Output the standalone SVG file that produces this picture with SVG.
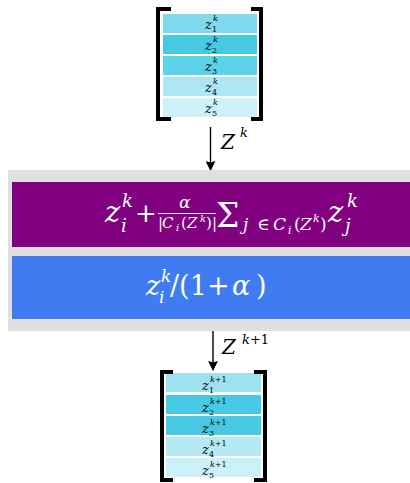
<svg xmlns="http://www.w3.org/2000/svg" width="410" height="483" viewBox="0 0 410 483" font-family="'DejaVu Serif', serif">
<defs>
<marker id="ah" markerWidth="10" markerHeight="10" refX="9" refY="5" orient="auto" markerUnits="userSpaceOnUse">
<path d="M0,0 L10,5 L0,10 L1.5,5 Z" fill="#000"/>
</marker>
<style>
.i{font-style:italic;}
.w{fill:#fff;}
.br{fill:none;stroke:#000;stroke-width:4;stroke-linejoin:miter;}
.lbl{font-size:13px;}
.sc{font-size:8px;}
.ar{stroke:#000;stroke-width:1.4;fill:none;}
</style>
</defs>
<rect width="410" height="483" fill="#fff"/>

<g id="stack-top">
<rect x="163" y="14" width="94" height="19" fill="#80daee"/>
<rect x="163" y="35" width="94" height="19" fill="#48c9e3"/>
<rect x="163" y="56" width="94" height="19" fill="#5dd3ea"/>
<rect x="163" y="77" width="94" height="19" fill="#aee7f3"/>
<rect x="163" y="98" width="94" height="19" fill="#cdf1f8"/>
<path class="br" d="M171 9 H158 V119 H171"/>
<path class="br" d="M251 9 H261 V119 H251"/>
<g>
<text class="i lbl" x="205" y="29">z</text><text class="i sc" x="213" y="21">k</text><text class="sc" x="212" y="32">1</text>
<text class="i lbl" x="205" y="50">z</text><text class="i sc" x="213" y="42">k</text><text class="sc" x="212" y="53">2</text>
<text class="i lbl" x="205" y="71">z</text><text class="i sc" x="213" y="63">k</text><text class="sc" x="212" y="74">3</text>
<text class="i lbl" x="205" y="92">z</text><text class="i sc" x="213" y="84">k</text><text class="sc" x="212" y="95">4</text>
<text class="i lbl" x="205" y="113">z</text><text class="i sc" x="213" y="105">k</text><text class="sc" x="212" y="116">5</text>
</g>
</g>

<g id="connectors">
<line class="ar" x1="210.5" y1="127" x2="210.5" y2="170" marker-end="url(#ah)"/>
<line class="ar" x1="213" y1="331" x2="213" y2="370" marker-end="url(#ah)"/>
<text class="i" x="221" y="149" font-size="20">Z</text><text class="i" x="240" y="137" font-size="13">k</text>
<text class="i" x="222" y="354" font-size="20">Z</text><text x="242" y="344" font-size="13"><tspan font-style="italic">k</tspan>+1</text>
</g>

<g id="operator">
<rect x="8" y="170" width="402" height="161" fill="#e0e0e0"/>
<g id="sum-step">
<rect x="12" y="182" width="398" height="65" fill="#800080"/>
<g class="w">
<text class="i" x="105" y="222" font-size="29">z</text>
<text class="i" x="122" y="207" font-size="18">k</text>
<text class="i" x="121" y="232" font-size="18">i</text>
<text x="135" y="222" font-size="26">+</text>
<text class="i" x="179" y="208" font-size="17">α</text>
<line x1="158" y1="213.5" x2="216" y2="213.5" stroke="#fff" stroke-width="1"/>
<text x="158" y="228" font-size="15">|</text>
<text class="i" x="162" y="228" font-size="15">C</text>
<text class="i" x="176" y="231" font-size="10">i</text>
<text x="181" y="228" font-size="15">(</text>
<text class="i" x="187" y="228" font-size="15">Z</text>
<text class="i" x="200" y="222" font-size="10">k</text>
<text x="206" y="228" font-size="15">)</text>
<text x="212" y="228" font-size="15">|</text>
<text x="216" y="227" font-size="33">Σ</text>
<text class="i" x="243" y="230" font-size="17">j</text>
<text x="257" y="230" font-size="17">∈</text>
<text class="i" x="273" y="230" font-size="17">C</text>
<text class="i" x="288" y="234" font-size="11">i</text>
<text x="294" y="230" font-size="17">(</text>
<text class="i" x="300" y="230" font-size="17">Z</text>
<text class="i" x="313" y="222" font-size="11">k</text>
<text x="320" y="230" font-size="17">)</text>
<text class="i" x="328" y="222" font-size="29">z</text>
<text class="i" x="347" y="207" font-size="18">k</text>
<text class="i" x="345" y="232" font-size="18">j</text>
</g>
</g>
<g id="scale-step">
<rect x="12" y="256" width="398" height="63" fill="#407cf1"/>
<g class="w">
<text class="i" x="146" y="295" font-size="27">z</text>
<text class="i" x="161" y="282" font-size="17">k</text>
<text class="i" x="159" y="303" font-size="17">i</text>
<text x="170" y="295" font-size="27">/(1</text>
<text x="207" y="295" font-size="27">+</text>
<text class="i" x="232" y="295" font-size="27">α</text>
<text x="256" y="295" font-size="27">)</text>
</g>
</g>
</g>

<g id="stack-bottom">
<rect x="166" y="373" width="95" height="19" fill="#9ee1ef"/>
<rect x="166" y="395" width="95" height="19" fill="#48c9e3"/>
<rect x="166" y="416" width="95" height="19" fill="#48c9e3"/>
<rect x="166" y="437" width="95" height="19" fill="#b5e9f4"/>
<rect x="166" y="458" width="95" height="19" fill="#cbf0f8"/>
<path class="br" d="M173 372 H162 V480 H173"/>
<path class="br" d="M254 372 H265 V480 H254"/>
<g>
<text class="i lbl" x="202" y="390">z</text><text class="sc" x="210" y="382"><tspan font-style="italic">k</tspan>+1</text><text class="sc" x="209" y="393">1</text>
<text class="i lbl" x="202" y="412">z</text><text class="sc" x="210" y="404"><tspan font-style="italic">k</tspan>+1</text><text class="sc" x="209" y="415">2</text>
<text class="i lbl" x="202" y="433">z</text><text class="sc" x="210" y="425"><tspan font-style="italic">k</tspan>+1</text><text class="sc" x="209" y="436">3</text>
<text class="i lbl" x="202" y="454">z</text><text class="sc" x="210" y="446"><tspan font-style="italic">k</tspan>+1</text><text class="sc" x="209" y="457">4</text>
<text class="i lbl" x="202" y="475">z</text><text class="sc" x="210" y="467"><tspan font-style="italic">k</tspan>+1</text><text class="sc" x="209" y="478">5</text>
</g>
</g>
</svg>
